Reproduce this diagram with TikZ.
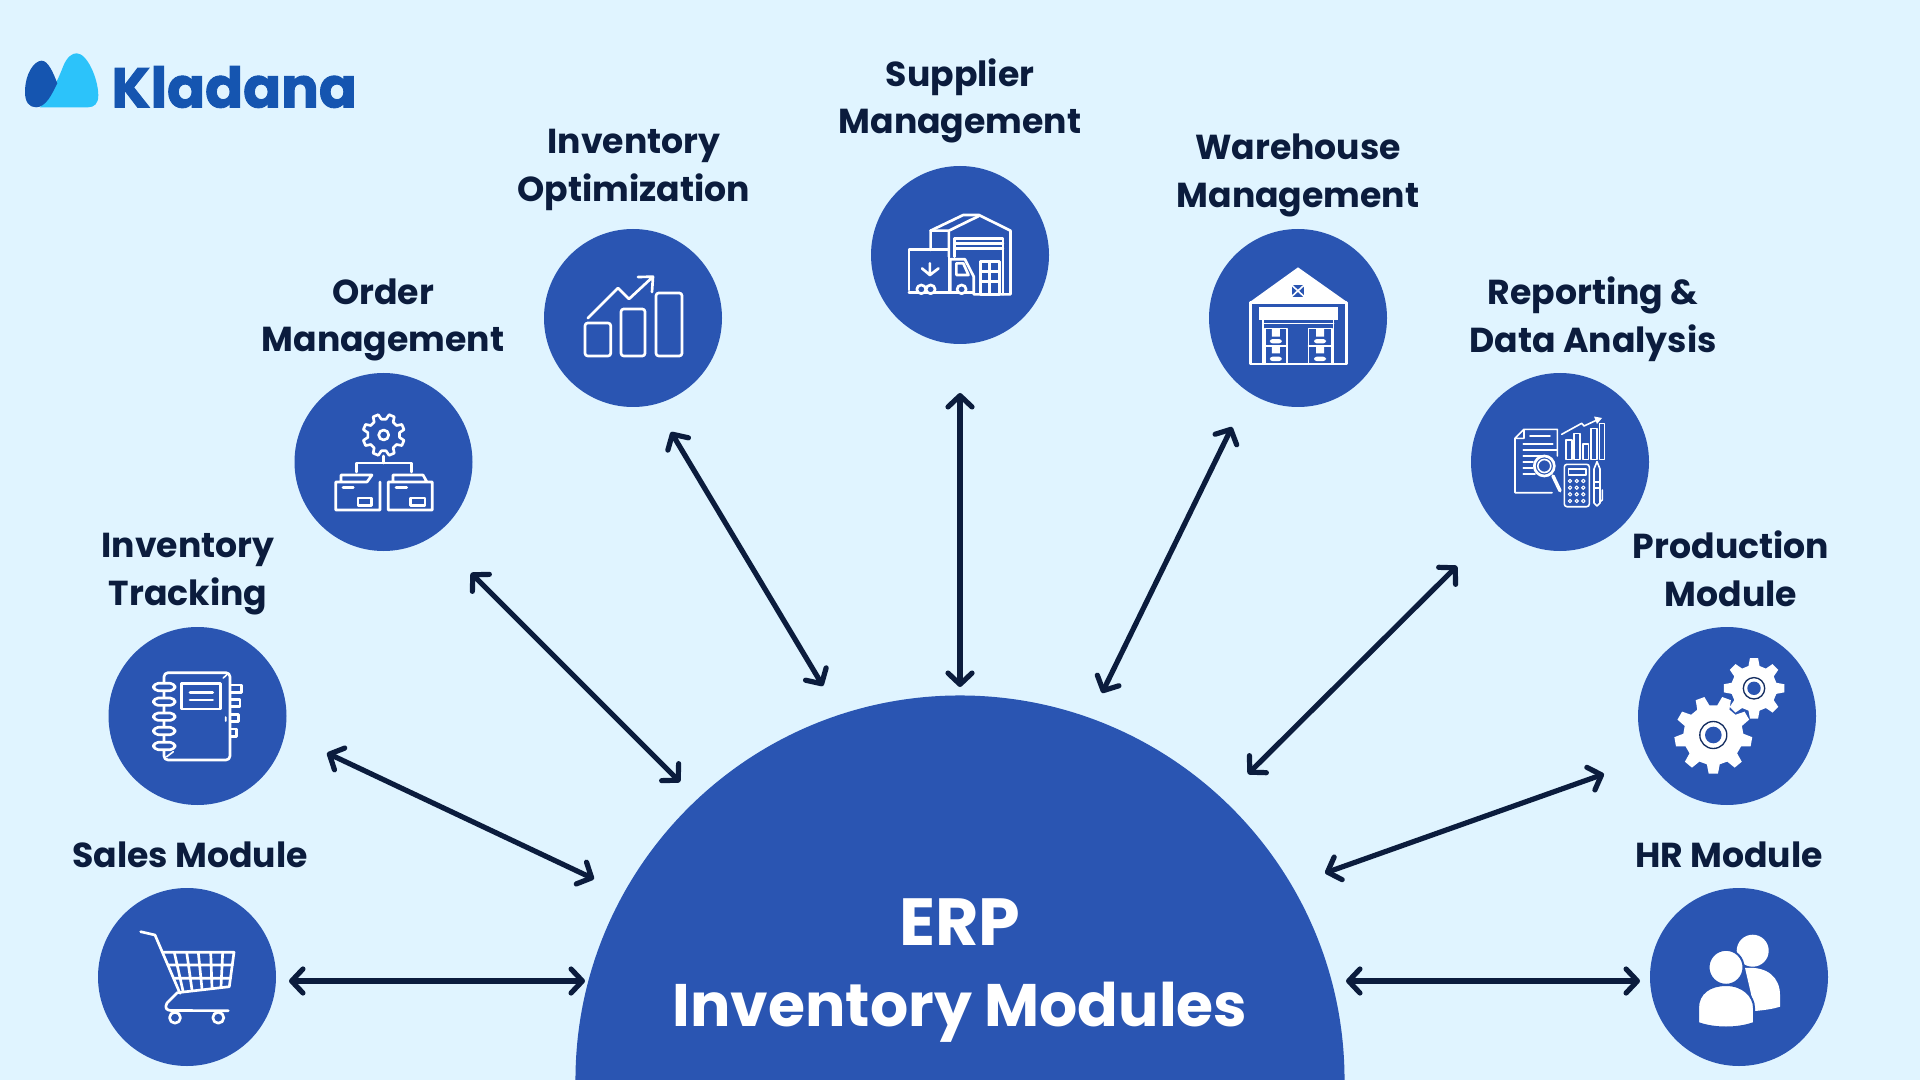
\documentclass[tikz,border=0pt]{standalone}
\usepackage{fontspec}
\setmainfont{Poppins}
\newfontfamily\logofont[BoldFeatures={FakeBold=1.6}]{Poppins}
\usetikzlibrary{arrows.meta}
\definecolor{skybg}{HTML}{E0F4FF}
\definecolor{modblue}{HTML}{2A55B2}
\definecolor{inkblue}{HTML}{0B1C3D}
\definecolor{logodark}{HTML}{1555B0}
\definecolor{logolight}{HTML}{2CC3FA}
\tikzset{every picture/.style={line width=0.75pt},
  modcircle/.style={circle,fill=modblue,minimum size=133.5pt,inner sep=0pt},
  modtitle/.style={text=inkblue,align=center,inner sep=0.75pt,font=\fontsize{26}{35.8}\selectfont\bfseries},
  erptitle/.style={text=white,inner sep=0.75pt,font=\fontsize{45}{54}\selectfont\bfseries},
  link/.style={draw=inkblue,line width=3.9pt,{Straight Barb[length=8.5pt,width=18pt,round]}-{Straight Barb[length=8.5pt,width=18pt,round]}},
  iconline/.style={draw=white,line width=2pt,line join=round,line cap=round},
  iconthin/.style={draw=white,line width=1.2pt,line join=round,line cap=round},
  iconfill/.style={fill=white}}
% style, centre x, centre y, outer radius, root radius, teeth, start angle
\newcommand{\cogwheel}[7]{%
  \path[#1] (#2,#3) +({#7-0.31*360/#6}:#5)
    \foreach \k in {1,...,#6} {
      -- +({#7+360*(\k-1)/#6-0.17*360/#6}:#4) -- +({#7+360*(\k-1)/#6+0.17*360/#6}:#4)
      -- +({#7+360*(\k-1)/#6+0.31*360/#6}:#5) -- +({#7+360*\k/#6-0.31*360/#6}:#5)
    } -- cycle;}
\begin{document}
\begin{tikzpicture}[x=0.75pt,y=0.75pt,yscale=-1,xscale=1]
\path[clip] (0,0) rectangle (1920,1080);
\fill[skybg] (0,0) rectangle (1920,1080);
%Shape: Half disc
\node[circle,fill=modblue,minimum size=576.8pt,inner sep=0pt] (hub) at (960,1080) {};
%Shape: Module discs
\node[modcircle] (sales) at (187,977) {};
\node[modcircle] (tracking) at (197.5,716) {};
\node[modcircle] (order) at (383.5,462) {};
\node[modcircle] (optimization) at (633,318) {};
\node[modcircle] (supplier) at (960,255) {};
\node[modcircle] (warehouse) at (1298,318) {};
\node[modcircle] (reporting) at (1560,462) {};
\node[modcircle] (production) at (1727,716) {};
\node[modcircle] (hr) at (1739,977) {};
% Text Node
\node[erptitle,font=\fontsize{50}{54}\selectfont\bfseries] (erp) at (960,922) {ERP};
\node[erptitle] (erpmodules) at (960,1012) {Inventory Modules};
\node[modtitle] (salestitle) at (190,855) {Sales Module};
\node[modtitle] (trackingtitle) at (188,574) {Inventory\\Tracking};
\node[modtitle] (ordertitle) at (383,320) {Order\\Management};
\node[modtitle] (optimizationtitle) at (634,170) {Inventory\hspace{9pt}\\Optimization};
\node[modtitle] (suppliertitle) at (960,101) {Supplier\\Management};
\node[modtitle] (warehousetitle) at (1298,175.5) {Warehouse\\Management};
\node[modtitle] (reportingtitle) at (1593,319) {Reporting \&\\Data Analysis};
\node[modtitle] (productiontitle) at (1731,569) {Production\\Module};
\node[modtitle] (hrtitle) at (1729,855) {HR Module};
% Text Node
\node[inner sep=0pt,anchor=west,text=logodark,font=\fontsize{42}{48}\selectfont\logofont\bfseries] (kladana) at (111,87) {Kladana};
%Shape: Logo drops
\fill[logolight] (40,107.3) .. controls (52,92) and (58,80) .. (63.3,66) .. controls (67,57) and (72,53.3) .. (76.7,53.3) .. controls (87,53.3) and (98,78) .. (98.3,95) .. controls (98.5,104) and (94,107.3) .. (88,107.3) -- cycle;
\fill[logodark] (25,92) .. controls (25,74) and (34,60.7) .. (41.7,60.7) .. controls (48,60.7) and (53,72) .. (57.3,83.3) .. controls (52,94) and (46,107.3) .. (36,107.3) .. controls (29,107.3) and (25,102) .. (25,92) -- cycle;
%Straight Lines: connectors
\coordinate (salesa) at (289,981); \coordinate (salesb) at (585,981);
\coordinate (hra) at (1346,981); \coordinate (hrb) at (1640,981);
\coordinate (trackinga) at (327,753); \coordinate (trackingb) at (594,879);
\coordinate (productiona) at (1325,873); \coordinate (productionb) at (1604,774);
\coordinate (ordera) at (471,573); \coordinate (orderb) at (680,782);
\coordinate (reportinga) at (1248,774); \coordinate (reportingb) at (1457,566);
\coordinate (optimizationa) at (671,432); \coordinate (optimizationb) at (823,686);
\coordinate (suppliera) at (960,393); \coordinate (supplierb) at (960,687);
\coordinate (warehousea) at (1232,427); \coordinate (warehouseb) at (1102,693);
\foreach \mod in {sales,hr,tracking,production,order,reporting,optimization,supplier,warehouse}
  \draw[link] (\mod a) -- (\mod b);
%Icon: shopping cart
\draw[iconline] (140.7,931.7) -- (155,935) -- (180,993.3);
\draw[iconline] (162.7,952.3) -- (234,952.3) -- (229.3,986.7) -- (177.3,992.7) -- (167,1003) .. controls (164,1008) and (167,1010.5) .. (171,1010.5) -- (228.3,1010.7);
\draw[iconline] (174.3,952.3) -- (183,991) (186.7,952.3) -- (192,990) (198.3,952.3) -- (202,989) (210.7,952.3) -- (212,988) (222.7,952.3) -- (221,987) (168,965) -- (232.5,965) (174,978.3) -- (230.5,978.3);
\draw[iconline] (175,1017.7) circle (5.5) (218.3,1017.7) circle (5.5);
%Icon: spiral notebook
\draw[iconline,rounded corners=3] (164,672.7) rectangle (230,760);
\draw[iconline] (181.7,683.3) rectangle (220.7,709);
\draw[iconline] (190,692.3) -- (212.7,692.3) (190,700) -- (212.7,700);
\foreach \tab/\taby in {241.7/685,240/699.3,238.3/714.3,236.7/729}
  \draw[iconline] (231,\taby) -- (\tab,\taby) -- (\tab,\taby+7.3) -- (231,\taby+7.3);
\foreach \ringy in {687,701.7,716.7,731,746}
  \draw[iconline,rounded corners=3.5,fill=modblue] (153.5,\ringy-3.7) rectangle (175,\ringy+3.7);
\draw[iconthin] (223.3,678) -- (228.3,673.3) (166.7,756.7) -- (173.3,751.7) (225.7,717) -- (225.7,721);
%Icon: gear over folders
\cogwheel{iconline}{383.7}{435}{21}{16}{8}{22.5}
\draw[iconline] (383.7,435) circle (5);
\draw[iconline] (383.7,456) -- (383.7,463) (356.7,472) -- (356.7,463) -- (411.7,463) -- (411.7,472);
\draw[iconline] (335.7,482) -- (335.7,510) -- (380,510) -- (380,482) (335.7,482) -- (367,482) -- (372,475) -- (341,475) -- (341,482);
\draw[iconline] (388.3,482) -- (388.3,510) -- (432.3,510) -- (432.3,482) -- (388.3,482) (393,482) -- (393,475) -- (423,475) -- (427,482);
\draw[iconline] (343,487.7) -- (353.3,487.7) (396,487.7) -- (406.7,487.7) (358,498) rectangle (371.7,505.7) (410.7,498) rectangle (425,505.7);
%Icon: rising bars
\draw[iconline,rounded corners=2] (585,323) rectangle (610.7,356) (621,309) rectangle (645,356) (656,293) rectangle (682,356);
\draw[iconline] (587.7,318.3) -- (618,288) -- (629,299) -- (653,276.7) (638,277) -- (653,276.7) -- (652,292);
\begin{scope}[shift={(0,5.12)},yscale=0.968]
%Icon: truck at depot
\draw[iconline] (930.6,253) -- (930.6,233) -- (963.3,216.8) -- (978.8,216.8) -- (1010.5,233) -- (1010.5,298.8) -- (973.7,298.8);
\draw[iconline] (930.6,233) -- (948.9,233) -- (978.8,217.9) (948.9,233) -- (948.9,259.9);
\draw[iconline] (954.7,259.9) -- (954.7,240.9) -- (1002.9,240.9) -- (1002.9,298.8) (954.7,246.1) -- (1002.9,246.1) (954.7,251.3) -- (1002.9,251.3);
\draw[iconline] (980.5,265) rectangle (999.5,298.8) (989.8,265) -- (989.8,298.8) (980.5,275.4) -- (999.5,275.4) (980.5,285.7) -- (999.5,285.7);
\draw[iconline] (908.9,294.3) -- (908.9,252.3) -- (948.9,252.3) -- (948.9,297) (908.9,297) -- (973.7,297);
\draw[iconline] (950.2,297) -- (950.2,262.6) -- (965,262.6) -- (973.7,280.5) -- (973.7,297) (956.4,266.8) -- (963.3,266.8) -- (968.5,278.8) -- (956.4,278.8) -- cycle;
\draw[iconline,fill=modblue] (921.3,293.6) circle (4.5) (930.6,293.6) circle (4.5) (961.6,293.6) circle (4.5);
\draw[iconline] (929.9,266.8) -- (929.9,278.8) (922,272) -- (929.9,278.8) -- (938.5,272);
%Icon: warehouse building
\fill[white] (1250.2,306.4) -- (1298,270.9) -- (1346.6,306.4) -- cycle;
\fill[modblue] (1291.5,289.1) rectangle (1304.3,301.2);
\draw[iconthin] (1291.5,289.1) -- (1304.3,301.2) (1304.3,289.1) -- (1291.5,301.2);
\draw[iconline] (1250.2,307.4) rectangle (1346.6,370.8);
\fill[white] (1258.5,311.5) rectangle (1338,325.3);
\draw[iconthin] (1263,325.3) -- (1263,370.8) (1333.6,325.3) -- (1333.6,370.8) (1263,328.8) -- (1333.6,328.8);
\draw[iconthin] (1264.7,334) rectangle (1287,370.8) (1308.4,334) rectangle (1331.8,370.8) (1264.7,352.2) -- (1287,352.2) (1308.4,352.2) -- (1331.8,352.2);
\foreach \crx in {1269.8,1314}{
  \fill[white] (\crx+2,334) rectangle (\crx+10,342.5) (\crx+2,352.9) rectangle (\crx+10,359.8);
  \fill[white,rounded corners=2] (\crx,345) rectangle (\crx+12,349.4) (\crx,363.2) rectangle (\crx+12,367.7);}
\end{scope}
%Icon: report and calculator
\draw[iconthin] (1557.3,456) -- (1557.3,429.3) -- (1524,429.3) -- (1515,438.3) -- (1515,492.7) -- (1552,492.7) (1524,429.3) -- (1524,438.3) -- (1515,438.3);
\draw[iconthin] (1530,435.7) -- (1550,435.7) (1523.3,444) -- (1552.7,444) (1523.3,450) -- (1556.7,450) (1523.3,456) -- (1543,456) (1523.3,462) -- (1533,462) (1523.3,468) -- (1533,468) (1523.3,474) -- (1535,474);
\draw[iconline,fill=modblue] (1544.3,466) circle (10);
\draw[iconthin] (1544.3,466) circle (6.5);
\draw[iconline,line width=2.6pt] (1553,476) -- (1560,490.7);
\draw[iconthin] (1566,440) rectangle (1571.7,459.3) (1574,433.3) rectangle (1580,459.3) (1582.7,444) rectangle (1588.3,459.3) (1591,428.3) rectangle (1596.7,459.3) (1599.3,423.3) rectangle (1604.3,459.3);
\draw[iconthin] (1561.7,434.3) -- (1581.7,423.3) -- (1584,426) -- (1598,419.5);
\fill[white] (1602,418) -- (1594,416.5) -- (1597,424) -- cycle;
\draw[iconthin,rounded corners=2] (1564.3,464.3) rectangle (1589.3,506.7);
\draw[iconthin] (1568.3,469) rectangle (1586,475);
\foreach \btnx in {1570,1576.7,1583.3}
  \foreach \btny in {481,487.7,494.3,501}
    \draw[iconthin,line width=0.8pt] (\btnx,\btny) circle (1.7);
\draw[iconthin] (1594,469) -- (1597,461.7) -- (1600,469) -- (1600,503) -- (1597,506) -- (1594,503) -- cycle (1594,482) -- (1600,482) (1594,488) -- (1600,488) (1600,501.7) -- (1602.3,500) -- (1602.3,490);
%Icon: two gears
\cogwheel{iconfill}{1713.3}{735}{39}{30}{9}{10}
\fill[modblue] (1713.3,735) circle (8.3);
\draw[inkblue!70!modblue,line width=1pt] (1713.3,735) circle (13.5);
\cogwheel{iconfill}{1754}{688.3}{30.5}{23}{8}{0}
\fill[modblue] (1754,688.3) circle (6.7);
\draw[inkblue!70!modblue,line width=1pt] (1754,688.3) circle (10.7);
%Icon: two people
\fill[white] (1745,968) .. controls (1768,966) and (1780,978) .. (1780,995) -- (1780,1006.7) .. controls (1773,1009) and (1765,1010) .. (1755,1011) -- cycle;
\fill[white] (1752.7,950.7) circle (16);
\draw[fill=white,draw=modblue,line width=1.5pt] (1698,1023) -- (1698,1008) .. controls (1698,993) and (1710,985) .. (1726,985) .. controls (1743,985) and (1754,996) .. (1754,1008) -- (1754,1023) .. controls (1738,1029) and (1714,1029) .. (1698,1023) -- cycle;
\draw[fill=white,draw=modblue,line width=1.5pt] (1726,967.3) circle (17.5);
\end{tikzpicture}
\end{document}
